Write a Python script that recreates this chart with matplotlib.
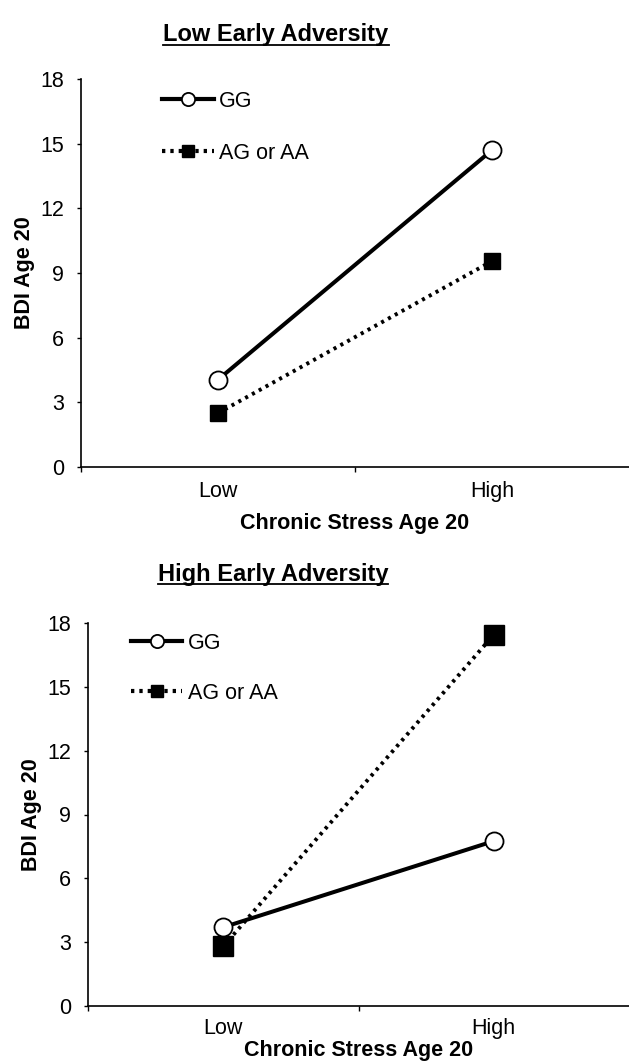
import matplotlib.pyplot as plt
from matplotlib.lines import Line2D

plt.rcParams['font.family'] = ['Liberation Sans', 'DejaVu Sans']

# data
categories = ['Low', 'High']
titles = ['Low Early Adversity', 'High Early Adversity']
gg_low_adv = [4.05, 14.7]
ag_low_adv = [2.5, 9.55]
gg_high_adv = [3.7, 7.75]
ag_high_adv = [2.8, 17.45]
series_gg = [gg_low_adv, gg_high_adv]
series_ag = [ag_low_adv, ag_high_adv]
yticks = [0, 3, 6, 9, 12, 15, 18]

fig = plt.figure(figsize=(6.29, 10.63), dpi=100)
W, H = 629, 1063

# axes boxes in pixels: left, top, bottom
boxes = [(81, 79, 467), (88, 623, 1006)]
title_pos = [(276, 35), (273, 574)]
leg_anchor = [(0.148, 0.969), (0.079, 0.974)]
leg_spacing = [1.42, 1.34]
sq_size = [11.5, 14.5]
xlabel_pad = [8, 1.0]
xtick_pad = [10, 8.5]

xpos = [0.5, 1.5]
dots = (0.8, 1.2)
for i in range(2):
    l, t, b = boxes[i]
    ax = fig.add_axes([l / W, 1 - b / H, (W - l) / W, (b - t) / H])
    ax.plot(xpos, series_gg[i], '-', color='black', lw=2.9, marker='o',
            ms=13, mfc='white', mec='black', mew=1.3, zorder=3)
    ax.plot(xpos, series_ag[i], color='black', lw=2.8, dashes=dots, marker='s',
            ms=sq_size[i], mfc='black', mec='black', zorder=2)
    ax.set_xlim(0, 2)
    ax.set_ylim(0, 18)
    ax.set_yticks(yticks)
    ax.set_xticks([0, 1])
    ax.set_xticklabels([])
    ax.set_xticks(xpos, minor=True)
    ax.set_xticklabels(categories, minor=True)
    ax.tick_params(axis='x', which='minor', length=0, pad=xtick_pad[i], labelsize=15.5)
    ax.tick_params(axis='x', which='major', length=3.5, width=1)
    ax.tick_params(axis='y', length=3, width=1, pad=9, labelsize=15.5)
    for s in ['top', 'right']:
        ax.spines[s].set_visible(False)
    for s in ['left', 'bottom']:
        ax.spines[s].set_linewidth(1.2)
    ax.set_xlabel('Chronic Stress Age 20', fontsize=15.5, fontweight='bold',
                  labelpad=xlabel_pad[i])
    ax.set_ylabel('BDI Age 20', fontsize=15.5, fontweight='bold', labelpad=4)

    handles = [
        Line2D([], [], ls='-', color='black', lw=3, marker='o', ms=9.5,
               mfc='white', mec='black', mew=1.3),
        Line2D([], [], color='black', lw=3, dashes=dots, marker='s', ms=9,
               mfc='black', mec='black'),
    ]
    ax.legend(handles, ['GG', 'AG or AA'], loc='upper left', frameon=False,
              bbox_to_anchor=leg_anchor[i], borderaxespad=0, borderpad=0,
              fontsize=15.5, handlelength=2.4, handletextpad=0.25,
              labelspacing=leg_spacing[i])

    tx, ty = title_pos[i]
    txt = fig.text(tx / W, 1 - ty / H, titles[i], ha='center', va='center',
                   fontsize=17, fontweight='bold')
    fig.canvas.draw()
    bb = txt.get_window_extent().transformed(fig.transFigure.inverted())
    fig.add_artist(Line2D([bb.x0, bb.x1], [bb.y0 + 0.001, bb.y0 + 0.001],
                          transform=fig.transFigure, color='black', lw=1.3))

fig.savefig('out.png', dpi=100)
